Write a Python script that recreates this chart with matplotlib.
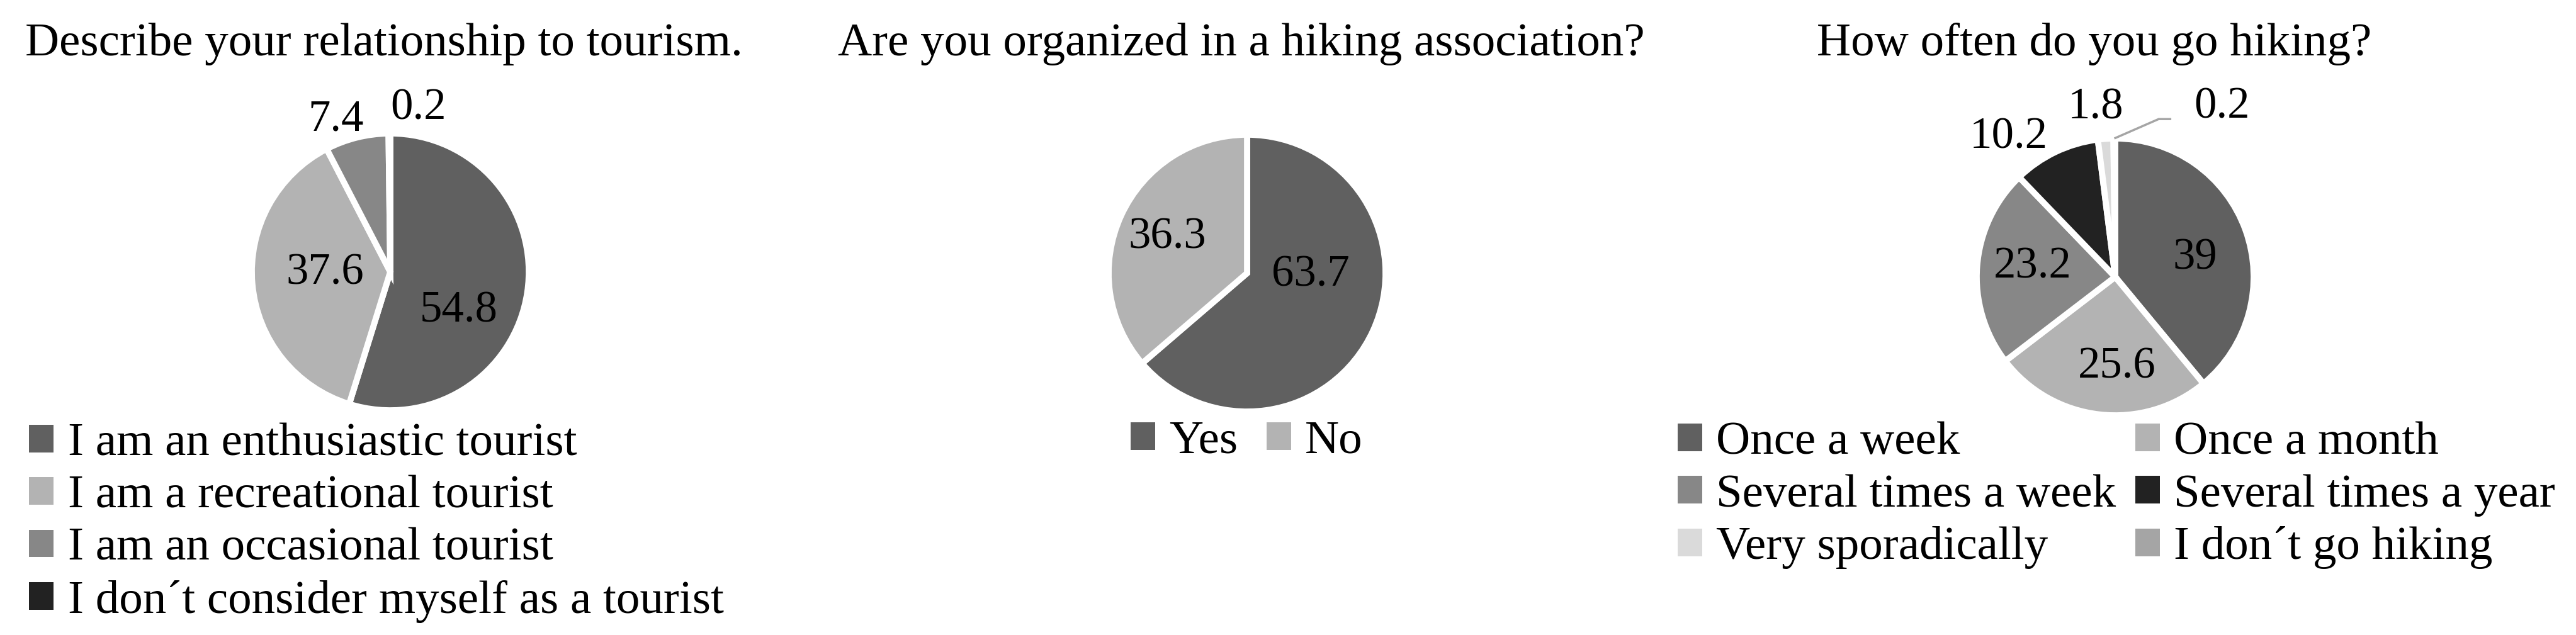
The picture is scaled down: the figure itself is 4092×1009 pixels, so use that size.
import numpy as np
import matplotlib
matplotlib.use("Agg")
import matplotlib.pyplot as plt
from matplotlib.patches import Patch

plt.rcParams['font.family'] = ['Liberation Serif', 'DejaVu Serif']

# ---------------- data ----------------
title1 = "Describe your relationship to tourism."
labels1 = ["I am an enthusiastic tourist", "I am a recreational tourist",
           "I am an occasional tourist", "I don\u00b4t consider myself as a tourist"]
values1 = [54.8, 37.6, 7.4, 0.2]
texts1 = ["54.8", "37.6", "7.4", "0.2"]

title2 = "Are you organized in a hiking association?"
labels2 = ["Yes", "No"]
values2 = [63.7, 36.3]
texts2 = ["63.7", "36.3"]

title3 = "How often do you go hiking?"
labels3 = ["Once a week", "Once a month", "Several times a week",
           "Several times a year", "Very sporadically", "I don\u00b4t go hiking"]
values3 = [39, 25.6, 23.2, 10.2, 1.8, 0.2]
texts3 = ["39", "25.6", "23.2", "10.2", "1.8", "0.2"]

# ---------------- style ----------------
colors1 = ["#606060", "#b3b3b3", "#878787", "#222222"]
colors2 = ["#606060", "#b3b3b3"]
colors3 = ["#606060", "#b3b3b3", "#878787", "#222222", "#dadada", "#a5a5a5"]

# label placement: (angle offset from wedge middle in degrees, distance in radii)
place1 = [(-21, 0.57), (-4, 0.47), (5.6, 1.17), (-10, 1.20)]
place2 = [(22.7, 0.46), (0.6, 0.63)]
place3 = [(-6.5, 0.59), (7.5, 0.65), (-2.7, 0.60), (11.8, 1.27), (2.5, 1.23), (-32.5, 1.45)]

W, H = 4092, 1009
DPI = 100
fig = plt.figure(figsize=(W / DPI, H / DPI), dpi=DPI)
FS_NUM = 51
FS_TXT = 54
UNIT = 220  # px per pie radius
LIM = 1.6


def make_ax(cx, cy):
    size = 2 * LIM * UNIT
    ax = fig.add_axes([(cx - size / 2) / W, (H - cy - size / 2) / H, size / W, size / H])
    return ax


def draw_pie(ax, values, colors, texts, place):
    wedges, _ = ax.pie(values, colors=colors, startangle=90, counterclock=False,
                       radius=1.0, wedgeprops=dict(edgecolor='white', linewidth=7))
    ax.set_xlim(-LIM, LIM)
    ax.set_ylim(-LIM, LIM)
    ax.set_aspect('equal')
    ax.axis('off')
    for w, t, (dth, d) in zip(wedges, texts, place):
        mid = 0.5 * (w.theta1 + w.theta2) + dth
        a = np.deg2rad(mid)
        ax.text(d * np.cos(a), d * np.sin(a), t, ha='center', va='center',
                fontsize=FS_NUM, color='black', clip_on=False)
    return wedges


ax1 = make_ax(620, 432)
w1 = draw_pie(ax1, values1, colors1, texts1, place1)
ax2 = make_ax(1981, 434)
w2 = draw_pie(ax2, values2, colors2, texts2, place2)
ax3 = make_ax(3360, 440)
w3 = draw_pie(ax3, values3, colors3, texts3, place3)

# leader line for the smallest slice in chart 3
wl = w3[-1]
am = np.deg2rad(0.5 * (wl.theta1 + wl.theta2))
x0, y0 = 1.0 * np.cos(am), 1.0 * np.sin(am)
ax3.plot([x0, 0.314, 0.405], [y0, 1.14, 1.14], color='#a5a5a5', lw=2.5,
         solid_capstyle='butt', clip_on=False)

# titles
fig.text(610 / W, 1 - 88 / H, title1, ha='center', va='baseline', fontsize=FS_TXT)
fig.text(1972 / W, 1 - 88 / H, title2, ha='center', va='baseline', fontsize=FS_TXT)
fig.text(3327 / W, 1 - 88 / H, title3, ha='center', va='baseline', fontsize=FS_TXT)

leg_kw = dict(frameon=False, fontsize=FS_TXT, handlelength=0.52, handleheight=0.52,
              handletextpad=0.3, borderpad=0, borderaxespad=0, labelspacing=0.21)


def proxies(colors):
    return [Patch(facecolor=c, edgecolor='none') for c in colors]


fig.legend(proxies(colors1), labels1, loc='upper left',
           bbox_to_anchor=(46 / W, 1 - 672 / H), **leg_kw)
fig.legend(proxies(colors2), labels2, loc='upper left',
           bbox_to_anchor=(1796 / W, 1 - 668 / H), ncol=2, columnspacing=0.6, **leg_kw)
order = [0, 2, 4, 1, 3, 5]  # row-major order as in the original legend
fig.legend([proxies(colors3)[i] for i in order], [labels3[i] for i in order],
           loc='upper left', bbox_to_anchor=(2665 / W, 1 - 670 / H), ncol=2,
           columnspacing=0.4, **leg_kw)

fig.savefig("out.png", dpi=DPI, facecolor='white')
